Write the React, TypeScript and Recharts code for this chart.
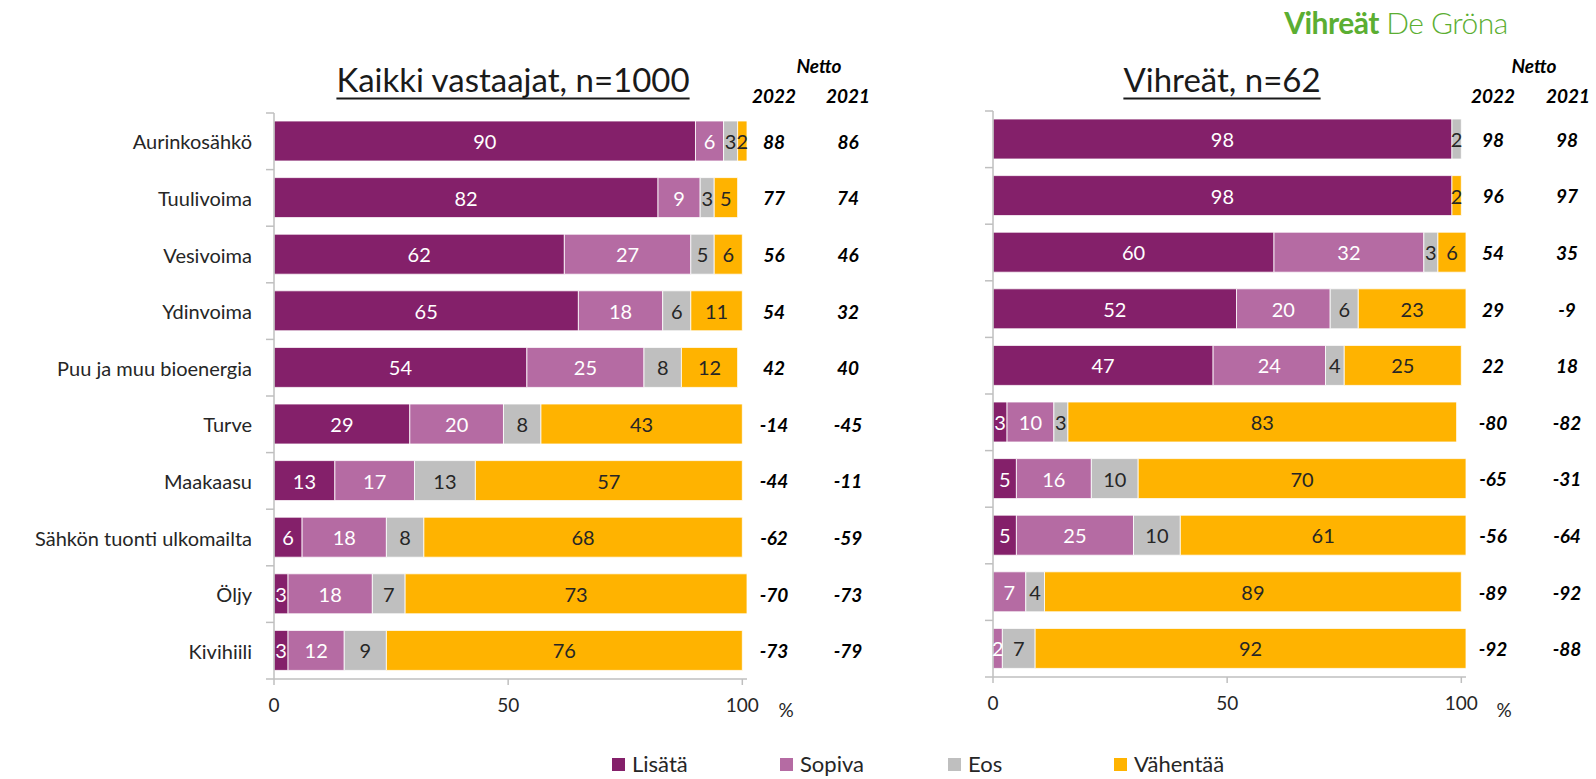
import React from "react";
import { BarChart, Bar, XAxis, YAxis, LabelList } from "recharts";

const categories = [
  "Aurinkosähkö",
  "Tuulivoima",
  "Vesivoima",
  "Ydinvoima",
  "Puu ja muu bioenergia",
  "Turve",
  "Maakaasu",
  "Sähkön tuonti ulkomailta",
  "Öljy",
  "Kivihiili",
];

const seriesNames = ["Lisätä", "Sopiva", "Eos", "Vähentää"];

// Kaikki vastaajat
const allLisata = [90, 82, 62, 65, 54, 29, 13, 6, 3, 3];
const allSopiva = [6, 9, 27, 18, 25, 20, 17, 18, 18, 12];
const allEos = [3, 3, 5, 6, 8, 8, 13, 8, 7, 9];
const allVahentaa = [2, 5, 6, 11, 12, 43, 57, 68, 73, 76];
const allNet2022 = [88, 77, 56, 54, 42, -14, -44, -62, -70, -73];
const allNet2021 = [86, 74, 46, 32, 40, -45, -11, -59, -73, -79];

// Vihreät
const greenLisata = [98, 98, 60, 52, 47, 3, 5, 5, 0, 0];
const greenSopiva = [0, 0, 32, 20, 24, 10, 16, 25, 7, 2];
const greenEos = [2, 0, 3, 6, 4, 3, 10, 10, 4, 7];
const greenVahentaa = [0, 2, 6, 23, 25, 83, 70, 61, 89, 92];
const greenNet2022 = [98, 96, 54, 29, 22, -80, -65, -56, -89, -92];
const greenNet2021 = [98, 97, 35, -9, 18, -82, -31, -64, -92, -88];

const xTicks = [0, 50, 100];
const nettoYears = ["2022", "2021"];

const colors = ["#84206a", "#b56ba3", "#bfbfbf", "#ffb300"];
const labelColors = ["#ffffff", "#ffffff", "#262626", "#262626"];
const keys = ["lisata", "sopiva", "eos", "vahentaa"];
const FONT = "Lato, 'Open Sans', sans-serif";
const AXIS = "#bfbfbf";

const buildRows = (a: number[], b: number[], c: number[], d: number[]) =>
  categories.map((name, i) => ({
    name,
    lisata: a[i],
    sopiva: b[i],
    eos: c[i],
    vahentaa: d[i],
  }));

const allRows = buildRows(allLisata, allSopiva, allEos, allVahentaa);
const greenRows = buildRows(greenLisata, greenSopiva, greenEos, greenVahentaa);

const PLOT_H = 566;
const BAND = PLOT_H / categories.length;

const segmentLabel = (fill: string) => (props: any) => {
  const { x, y, width, height, value } = props;
  if (!value) return null;
  return (
    <text
      x={x + width / 2}
      y={y + height / 2}
      fill={fill}
      fontSize={20}
      textAnchor="middle"
      dominantBaseline="central"
    >
      {value}
    </text>
  );
};

const categoryTick = (showLabel: boolean) => (props: any) => {
  const { x, y, payload, index } = props;
  return (
    <g>
      <line x1={x - 8} x2={x} y1={y - BAND / 2} y2={y - BAND / 2} stroke={AXIS} strokeWidth={1.5} />
      {index === categories.length - 1 && (
        <line x1={x - 8} x2={x} y1={y + BAND / 2} y2={y + BAND / 2} stroke={AXIS} strokeWidth={1.5} />
      )}
      {showLabel && (
        <text x={x - 22} y={y} textAnchor="end" dominantBaseline="central" fontSize={20} fill="#262626">
          {payload.value}
        </text>
      )}
    </g>
  );
};

const nettoTick = (n22: number[], n21: number[]) => (props: any) => {
  const { x, y, index } = props;
  return (
    <g fontStyle="italic" fontWeight="bold" fontSize={19} fill="#000">
      <text x={x + 27} y={y} textAnchor="middle" dominantBaseline="central">
        {n22[index]}
      </text>
      <text x={x + 101} y={y} textAnchor="middle" dominantBaseline="central">
        {n21[index]}
      </text>
    </g>
  );
};

const Panel = ({
  rows,
  width,
  top,
  leftW,
  rightW,
  showLabels,
  n22,
  n21,
}: {
  rows: any[];
  width: number;
  top: number;
  leftW: number;
  rightW: number;
  showLabels: boolean;
  n22: number[];
  n21: number[];
}) => (
  <BarChart
    width={width}
    height={779}
    data={rows}
    layout="vertical"
    barSize={40}
    margin={{ top, right: 0, bottom: 779 - top - PLOT_H - 30, left: 0 }}
  >
    <XAxis
      type="number"
      domain={[0, 100]}
      ticks={xTicks}
      height={30}
      axisLine={{ stroke: AXIS, strokeWidth: 1.5 }}
      tickLine={{ stroke: AXIS, strokeWidth: 1.5 }}
      tickSize={6}
      tickMargin={14}
      tick={{ fontSize: 19, fill: "#262626" }}
    />
    <YAxis
      yAxisId="cat"
      type="category"
      dataKey="name"
      width={leftW}
      axisLine={{ stroke: AXIS, strokeWidth: 1.5 }}
      tickLine={false}
      tickSize={0}
      tickMargin={0}
      tick={categoryTick(showLabels)}
      interval={0}
    />
    <YAxis
      yAxisId="net"
      orientation="right"
      type="category"
      dataKey="name"
      width={rightW}
      axisLine={false}
      tickLine={false}
      tickSize={0}
      tickMargin={0}
      tick={nettoTick(n22, n21)}
      interval={0}
    />
    {keys.map((k, i) => (
      <Bar
        key={k}
        yAxisId="cat"
        dataKey={k}
        name={seriesNames[i]}
        stackId="s"
        fill={colors[i]}
        stroke="#ffffff"
        strokeWidth={0.8}
        isAnimationActive={false}
      >
        <LabelList dataKey={k} content={segmentLabel(labelColors[i])} />
      </Bar>
    ))}
  </BarChart>
);

const abs = (x: number, y: number, extra: React.CSSProperties = {}): React.CSSProperties => ({
  position: "absolute",
  left: x,
  top: y,
  transform: "translate(-50%, -50%)",
  whiteSpace: "nowrap",
  lineHeight: 1,
  ...extra,
});

export default function App() {
  const titleStyle: React.CSSProperties = {
    fontSize: 33,
    color: "#1a1a1a",
    textDecoration: "underline",
    textDecorationThickness: 2,
    textUnderlineOffset: 6,
  };
  const nettoStyle: React.CSSProperties = {
    fontSize: 19,
    fontStyle: "italic",
    fontWeight: "bold",
    color: "#000",
  };
  const legendX = [612, 780, 948, 1114];
  return (
    <div
      style={{
        position: "absolute",
        left: 0,
        top: 0,
        width: 1596,
        height: 779,
        background: "#fff",
        fontFamily: FONT,
        overflow: "hidden",
      }}
    >
      <div style={{ position: "absolute", left: 0, top: 0 }}>
        <Panel rows={allRows} width={880} top={113} leftW={274} rightW={133} showLabels n22={allNet2022} n21={allNet2021} />
      </div>
      <div style={{ position: "absolute", left: 880, top: 0 }}>
        <Panel rows={greenRows} width={716} top={111} leftW={113} rightW={130} showLabels={false} n22={greenNet2022} n21={greenNet2021} />
      </div>

      <div style={abs(513, 79, titleStyle)}>Kaikki vastaajat, n=1000</div>
      <div style={abs(1222, 79, titleStyle)}>Vihreät, n=62</div>

      <div style={abs(819, 65, nettoStyle)}>Netto</div>
      <div style={abs(774, 95, nettoStyle)}>{nettoYears[0]}</div>
      <div style={abs(848, 95, nettoStyle)}>{nettoYears[1]}</div>
      <div style={abs(1534, 65, nettoStyle)}>Netto</div>
      <div style={abs(1493, 95, nettoStyle)}>{nettoYears[0]}</div>
      <div style={abs(1568, 95, nettoStyle)}>{nettoYears[1]}</div>

      <div style={abs(786, 709, { fontSize: 19, color: "#262626" })}>%</div>
      <div style={abs(1504, 709, { fontSize: 19, color: "#262626" })}>%</div>

      <div style={abs(1396, 22, { fontSize: 30, color: "#5bae32", letterSpacing: -0.5 })}>
        <span style={{ fontWeight: "bold" }}>Vihreät</span>{" "}
        <span style={{ fontWeight: 300 }}>De Gröna</span>
      </div>

      {seriesNames.map((s, i) => (
        <div
          key={s}
          style={{
            position: "absolute",
            left: legendX[i],
            top: 753,
            display: "flex",
            alignItems: "center",
            fontSize: 22,
            color: "#262626",
            lineHeight: 1,
            whiteSpace: "nowrap",
          }}
        >
          <span style={{ width: 13, height: 13, background: colors[i], marginRight: 7, display: "inline-block" }} />
          {s}
        </div>
      ))}
    </div>
  );
}
